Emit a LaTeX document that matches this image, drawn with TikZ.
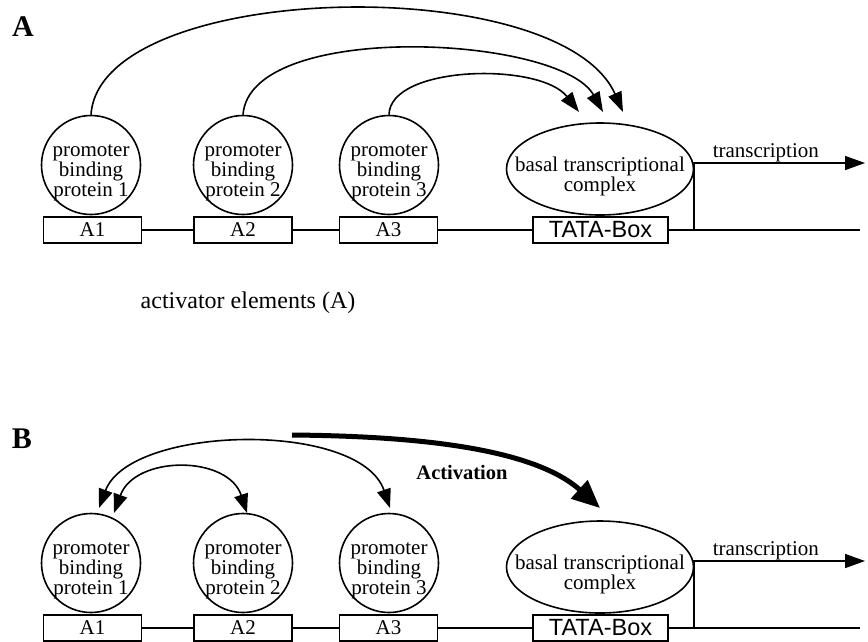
\documentclass[tikz,border=0pt]{standalone}
\usepackage{fontspec}
\setmainfont{Liberation Serif}
\newfontfamily\boxfont{Liberation Sans}
\usetikzlibrary{arrows.meta,shapes.geometric}
\begin{document}
\begin{tikzpicture}[x=1pt,y=-1pt,line width=1.6pt,
  txt/.style={font=\fontsize{21}{20}\selectfont},
  prot/.style={draw,circle,inner sep=0pt,minimum size=99pt,
    label={[txt,align=center,yshift=-8pt]center:#1}},
  elem/.style={draw,rectangle,inner sep=0pt,minimum width=98pt,minimum height=26pt,font=\fontsize{21}{21}\selectfont},
  tata/.style={elem,minimum width=135pt,font=\boxfont\fontsize{23.5}{24}\selectfont},
  basal/.style={draw,ellipse,inner sep=0pt,minimum width=187pt,minimum height=92pt,
    label={[font=\fontsize{21}{19}\selectfont,align=center,yshift=-7pt]center:#1}},
  arr/.style={-{Triangle[length=20pt,width=14pt]}},
  darr/.style={{Triangle[length=19pt,width=14pt]}-{Triangle[length=19pt,width=14pt]}},
  lbl/.style={font=\bfseries\fontsize{30}{30}\selectfont}]
\useasboundingbox (0,0) rectangle (868,641);
% the promoter row, same in both panels
\foreach \p/\dy in {a/0,b/398}{
  \node[prot={promoter\\binding\\protein 1}] (\p-p1) at (91,165+\dy) {};
  \node[prot={promoter\\binding\\protein 2}] (\p-p2) at (243,165+\dy) {};
  \node[prot={promoter\\binding\\protein 3}] (\p-p3) at (389,165+\dy) {};
  \node[basal={basal transcriptional\\complex}] (\p-btc) at (600,169+\dy) {};
  \node[elem] (\p-e1) at (92.5,230+\dy) {A1};
  \node[elem] (\p-e2) at (243,230+\dy) {A2};
  \node[elem] (\p-e3) at (388.5,230+\dy) {A3};
  \node[tata] (\p-tata) at (600.5,230+\dy) {TATA-Box};
  \coordinate (\p-s) at (694,230+\dy);
  \coordinate (\p-end) at (860,230+\dy);
  \coordinate (\p-tr) at (865,163+\dy);
  \draw (\p-e1) -- (\p-e2) -- (\p-e3) -- (\p-tata) -- (\p-end);
  \draw[arr] (\p-s) |- (\p-tr) node[pos=0.71,above,inner sep=0pt,txt] {transcription};
}
\node[lbl] (la) at (23,27) {A};
\node[lbl] (lb) at (22,439) {B};
\node[font=\fontsize{24}{24}\selectfont] (act) at (248,303) {activator elements (A)};
% panel A: each protein acts on the complex
\coordinate (ta1) at (623,112);
\coordinate (ta2) at (603,112);
\coordinate (ta3) at (579,112);
\draw[arr] (a-p1.north) .. controls (100,-20) and (560,-30) .. (ta1);
\draw[arr] (a-p2.north) .. controls (250,20) and (560,35) .. (ta2);
\draw[arr] (a-p3.north) .. controls (390,65) and (540,62) .. (ta3);
% panel B: proteins act together
\coordinate (tb1) at (99,508);
\coordinate (tb3) at (390,508);
\coordinate (tb4) at (114,513);
\coordinate (tb2) at (247,513);
\coordinate (tb5) at (292,435);
\coordinate (tb6) at (600,508);
\draw[darr] (tb1) .. controls (130,425) and (360,420) .. (tb3);
\draw[darr] (tb4) .. controls (135,455) and (228,455) .. (tb2);
\draw[line width=5pt,-{Triangle[length=28pt,width=24pt]}] (tb5) .. controls (400,436) and (530,445) .. (tb6);
\node[font=\bfseries\fontsize{20.5}{20.5}\selectfont] (actv) at (462,472) {Activation};
\end{tikzpicture}
\end{document}
